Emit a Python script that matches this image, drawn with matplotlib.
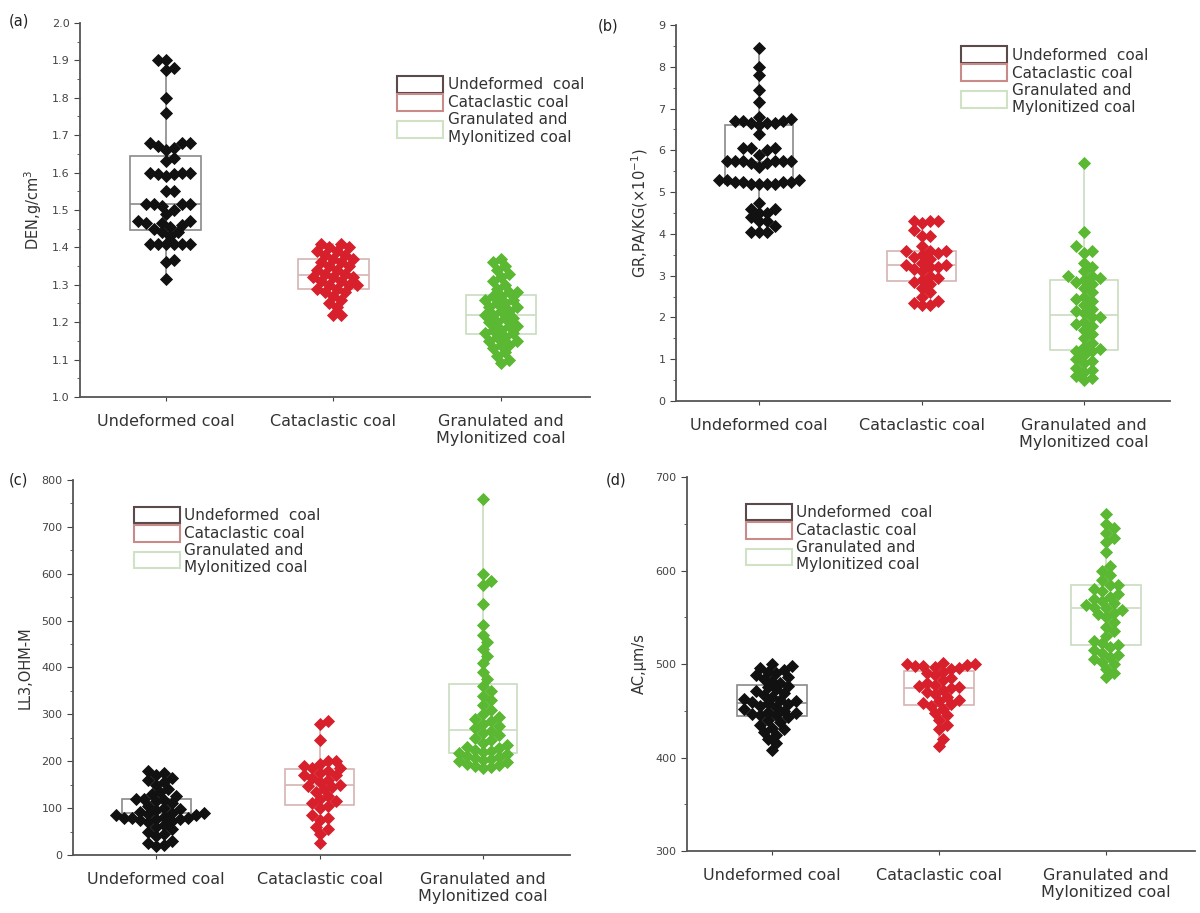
import numpy as np
import matplotlib
matplotlib.use("Agg")
import matplotlib.pyplot as plt
from matplotlib.patches import Patch
from matplotlib.ticker import MultipleLocator

groups = ["Undeformed coal", "Cataclastic coal", "Granulated and\nMylonitized coal"]
legend_labels = ["Undeformed  coal", "Cataclastic coal", "Granulated and\nMylonitized coal"]

# (a) DEN
den_undeformed = [1.90, 1.90, 1.88, 1.875, 1.80, 1.76, 1.68, 1.68, 1.68, 1.67, 1.665, 1.66,
                  1.64, 1.63, 1.60, 1.60, 1.60, 1.595, 1.595, 1.59, 1.55, 1.55, 1.515, 1.515,
                  1.515, 1.515, 1.51, 1.50, 1.49, 1.47, 1.47, 1.465, 1.465, 1.46, 1.455, 1.45,
                  1.44, 1.44, 1.43, 1.41, 1.41, 1.41, 1.41, 1.41, 1.41, 1.365, 1.36, 1.315]
den_cataclastic = [1.41, 1.41, 1.40, 1.40, 1.39, 1.39, 1.38, 1.38, 1.37, 1.37, 1.36, 1.36,
                   1.35, 1.35, 1.34, 1.34, 1.33, 1.33, 1.32, 1.32, 1.32, 1.31, 1.31, 1.30,
                   1.30, 1.30, 1.29, 1.29, 1.28, 1.28, 1.27, 1.26, 1.25, 1.24, 1.22, 1.22]
den_granulated = [1.37, 1.36, 1.35, 1.34, 1.33, 1.32, 1.31, 1.30, 1.29, 1.28, 1.28, 1.27,
                  1.27, 1.26, 1.26, 1.25, 1.25, 1.24, 1.24, 1.23, 1.23, 1.22, 1.22, 1.21,
                  1.21, 1.20, 1.20, 1.19, 1.19, 1.18, 1.18, 1.17, 1.17, 1.16, 1.16, 1.15,
                  1.15, 1.14, 1.14, 1.13, 1.12, 1.11, 1.10, 1.09]

# (b) GR
gr_undeformed = [8.45, 8.0, 7.8, 7.45, 7.15, 6.8, 6.75, 6.7, 6.7, 6.7, 6.65, 6.65, 6.65, 6.6,
                 6.4, 6.05, 6.05, 6.05, 6.0, 5.9, 5.75, 5.75, 5.75, 5.75, 5.75, 5.75, 5.7, 5.7,
                 5.6, 5.3, 5.3, 5.3, 5.25, 5.25, 5.25, 5.25, 5.2, 5.2, 5.2, 5.2, 4.75, 4.6,
                 4.6, 4.5, 4.5, 4.4, 4.3, 4.3, 4.2, 4.05, 4.05, 4.05]
gr_cataclastic = [4.3, 4.3, 4.3, 4.25, 4.1, 3.95, 3.95, 3.7, 3.6, 3.6, 3.6, 3.55, 3.5, 3.45,
                  3.4, 3.3, 3.25, 3.25, 3.2, 3.2, 3.15, 3.1, 3.0, 2.95, 2.9, 2.85, 2.8, 2.7,
                  2.6, 2.5, 2.4, 2.35, 2.3, 2.3]
gr_granulated = [5.7, 4.05, 3.7, 3.6, 3.55, 3.3, 3.2, 3.1, 3.0, 3.0, 2.95, 2.9, 2.85, 2.8,
                 2.7, 2.6, 2.5, 2.45, 2.4, 2.3, 2.2, 2.15, 2.1, 2.0, 2.0, 1.9, 1.85, 1.8, 1.7,
                 1.6, 1.5, 1.4, 1.3, 1.25, 1.2, 1.2, 1.1, 1.0, 0.95, 0.9, 0.8, 0.75, 0.7, 0.6,
                 0.55, 0.5]

# (c) LL3
ll3_undeformed = [180, 175, 170, 165, 160, 155, 150, 140, 135, 130, 125, 120, 120, 118, 115,
                  110, 105, 100, 98, 95, 92, 90, 90, 88, 85, 85, 82, 80, 80, 78, 77, 76, 75,
                  72, 70, 65, 60, 55, 50, 45, 40, 30, 25, 22, 20]
ll3_cataclastic = [285, 280, 245, 200, 200, 195, 190, 185, 185, 180, 175, 170, 170, 165, 160,
                   155, 150, 147, 145, 140, 135, 125, 120, 115, 110, 105, 100, 85, 80, 75, 60,
                   55, 45, 25]
ll3_granulated = [760, 600, 585, 575, 535, 490, 470, 455, 440, 425, 410, 390, 375, 360, 350,
                  340, 330, 320, 310, 300, 295, 290, 285, 280, 275, 270, 265, 260, 255, 250,
                  245, 240, 235, 230, 228, 225, 222, 220, 218, 215, 212, 210, 208, 205, 202,
                  200, 198, 195, 192, 190, 188, 185]

# (d) AC
ac_undeformed = [500, 498, 496, 494, 492, 490, 488, 486, 484, 482, 480, 477, 475, 473, 471,
                 469, 467, 465, 463, 461, 460, 459, 458, 457, 455, 454, 452, 450, 449, 448,
                 447, 446, 445, 443, 440, 438, 435, 432, 430, 427, 424, 420, 415, 408]
ac_cataclastic = [501, 500, 500, 499, 498, 498, 497, 496, 495, 492, 490, 488, 485, 483, 480,
                  478, 476, 475, 474, 472, 470, 468, 465, 462, 460, 458, 457, 455, 452, 448,
                  445, 440, 435, 430, 420, 412]
ac_granulated = [660, 650, 645, 640, 635, 630, 620, 605, 600, 595, 590, 585, 584, 580, 578,
                 575, 572, 570, 567, 565, 563, 561, 560, 558, 555, 553, 550, 545, 540, 535,
                 530, 525, 522, 520, 518, 515, 512, 510, 508, 505, 502, 500, 495, 490, 486]

marker_colors = ["#111111", "#d8202c", "#5bb832"]
box_colors = ["#8a8a8a", "#d6b4b4", "#c9dcc0"]
legend_edges = ["#5a4a4a", "#c98a8a", "#cfe3c4"]


def swarm_offsets(ax, xpos, vals, d):
    # simple beeswarm in pixel space
    p0 = ax.transData.transform((0, 0))
    p1 = ax.transData.transform((1, 1))
    ppx = p1[0] - p0[0]
    ppy = p1[1] - p0[1]
    vals = np.asarray(vals, dtype=float)
    order = np.argsort(vals)
    placed = []
    offs = np.zeros(len(vals))
    cands = [0.0]
    for k in range(1, 60):
        cands += [k * d * 0.5, -k * d * 0.5]
    for i in order:
        y = vals[i] * ppy
        for c in cands:
            ok = True
            for px, py in placed:
                if (c - px) ** 2 + (y - py) ** 2 < (d * 0.95) ** 2:
                    ok = False
                    break
            if ok:
                break
        placed.append((c, y))
        offs[i] = c / ppx
    return xpos + offs


def panel(rect, data, ylim, major, minor, ylabel, leg_anchor):
    ax = fig.add_axes(rect)
    ax.set_xlim(0.49, 3.53)
    ax.set_ylim(*ylim)
    for i, vals in enumerate(data):
        bp = ax.boxplot(vals, positions=[i + 1], widths=0.42, whis=(0, 100),
                        showcaps=False, showfliers=False, patch_artist=True, zorder=1)
        for b in bp["boxes"]:
            b.set_facecolor("none")
            b.set_edgecolor(box_colors[i])
            b.set_linewidth(1.2)
        for w in bp["whiskers"]:
            w.set_color(box_colors[i])
            w.set_linewidth(1.2)
        for m in bp["medians"]:
            m.set_color(box_colors[i])
            m.set_linewidth(1.2)
        xs = swarm_offsets(ax, i + 1, vals, 8.0)
        ax.plot(xs, vals, "D", color=marker_colors[i], markersize=6, ls="none", zorder=3,
                markeredgewidth=0.6, markeredgecolor=marker_colors[i])
    ax.set_xticks([1, 2, 3])
    ax.set_xticklabels(groups, fontsize=11.5, color="#333333")
    ax.set_xlim(0.49, 3.53)
    ax.yaxis.set_major_locator(MultipleLocator(major))
    ax.yaxis.set_minor_locator(MultipleLocator(minor))
    ax.tick_params(axis="y", labelsize=8, colors="#444444", direction="out", length=4)
    ax.tick_params(axis="y", which="minor", direction="out", length=2.5, color="#444444")
    ax.tick_params(axis="x", direction="out", length=3, pad=9, color="#444444")
    for s in ["top", "right"]:
        ax.spines[s].set_visible(False)
    for s in ["left", "bottom"]:
        ax.spines[s].set_color("#555555")
        ax.spines[s].set_linewidth(1.3)
    ax.set_ylabel(ylabel, fontsize=10.5, color="#333333", labelpad=6)
    handles = [Patch(facecolor="white", edgecolor=c, linewidth=1.5) for c in legend_edges]
    ax.legend(handles, legend_labels, loc="upper left", bbox_to_anchor=leg_anchor,
              frameon=False, fontsize=11, handlelength=3.0, handleheight=1.3,
              labelspacing=0.1, handletextpad=0.3, borderaxespad=0, labelcolor="#333333")
    return ax


fig = plt.figure(figsize=(12, 9.13), dpi=100)

panel([0.0667, 0.5652, 0.425, 0.4096],
      [den_undeformed, den_cataclastic, den_granulated],
      (1.0, 2.0), 0.1, 0.05, "DEN,g/cm$^3$", (0.61, 0.875))
panel([0.5633, 0.5608, 0.412, 0.4118],
      [gr_undeformed, gr_cataclastic, gr_granulated],
      (0, 9), 1, 0.5, "GR,PA/KG(×10$^{-1}$)", (0.565, 0.96))
panel([0.0608, 0.0635, 0.414, 0.4108],
      [ll3_undeformed, ll3_cataclastic, ll3_granulated],
      (0, 800), 100, 50, "LL3,OHM-M", (0.11, 0.945))
panel([0.5725, 0.0679, 0.423, 0.4096],
      [ac_undeformed, ac_cataclastic, ac_granulated],
      (300, 700), 100, 50, "AC,μm/s", (0.104, 0.945))

fig.text(0.007, 0.985, "(a)", fontsize=10.5, color="#222222", va="top")
fig.text(0.498, 0.98, "(b)", fontsize=10.5, color="#222222", va="top")
fig.text(0.007, 0.482, "(c)", fontsize=10.5, color="#222222", va="top")
fig.text(0.505, 0.482, "(d)", fontsize=10.5, color="#222222", va="top")

fig.savefig("out.png", dpi=100)
